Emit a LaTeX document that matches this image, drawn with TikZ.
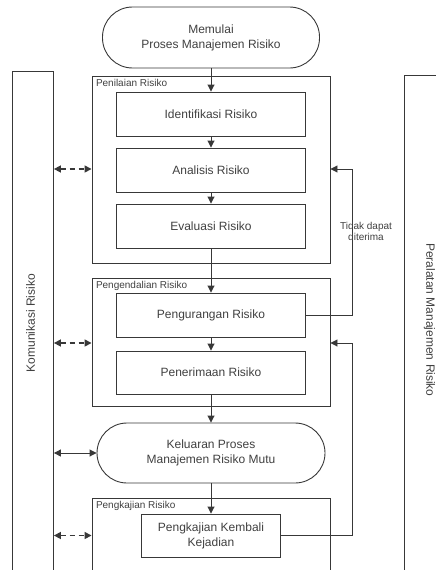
\documentclass[tikz,border=0pt]{standalone}
\usepackage{fontspec}
\setmainfont{Liberation Sans}
\usetikzlibrary{arrows.meta,positioning}
\definecolor{garis}{rgb}{0.22,0.22,0.22}
\definecolor{teks}{rgb}{0.25,0.25,0.25}
\tikzset{
    proses/.style={draw=garis, rectangle, minimum width=189pt, minimum height=44pt, inner sep=0pt, align=center},
    terminal/.style={draw=garis, rectangle, rounded corners=30pt, minimum height=61pt, inner sep=0pt, align=center},
    wadah/.style={draw=garis, rectangle, inner sep=0pt},
    judul/.style={font=\fontsize{10}{12}\selectfont, inner sep=1pt, anchor=north west},
    panah/.style={draw=garis, -{Triangle[length=7pt,width=7pt]}},
    duaarah/.style={draw=garis, {Triangle[length=7pt,width=7pt]}-{Triangle[length=7pt,width=7pt]}},
    putus/.style={line width=1.5pt, dash pattern=on 5pt off 4pt}
}

\begin{document}
\begin{tikzpicture}[x=1pt, y=1pt, line width=0.9pt, text=teks, font=\fontsize{12}{15}\selectfont]
    \useasboundingbox (0,0) rectangle (436,-570);

    % kolom samping
    \node[wadah, minimum width=41pt, minimum height=520pt, anchor=north west] (komunikasi) at (12,-71) {};
    \node[rotate=90] (tkomunikasi) at (30.5,-323) {Komunikasi Risiko};
    \node[wadah, minimum width=50pt, minimum height=520pt, anchor=north west] (peralatan) at (404,-75) {};
    \node[rotate=-90] (tperalatan) at (429.5,-320) {Peralatan Manajemen Risiko};

    % alur utama
    \node[terminal, minimum width=217pt] (mulai) at (211,-37.5) {Memulai\\Proses Manajemen Risiko};

    \node[wadah, minimum width=238pt, minimum height=187pt] (nilai) at (211,-169.5) {};
    \node[judul] (lnilai) at ([shift={(3pt,-2pt)}]nilai.north west) {Penilaian Risiko};
    \node[proses] (identifikasi) at (211,-114) {Identifikasi Risiko};
    \node[proses] (analisis) at (211,-170) {Analisis Risiko};
    \node[proses] (evaluasi) at (211,-226) {Evaluasi Risiko};

    \node[wadah, minimum width=238pt, minimum height=128pt] (kendali) at (211,-342) {};
    \node[judul] (lkendali) at ([shift={(3pt,-2pt)}]kendali.north west) {Pengendalian Risiko};
    \node[proses] (kurang) at (211,-315) {Pengurangan Risiko};
    \node[proses, minimum height=43pt] (terima) at (211,-372.5) {Penerimaan Risiko};

    \node[terminal, minimum width=228pt, minimum height=60pt] (keluaran) at (211,-453) {Keluaran Proses\\Manajemen Risiko Mutu};

    \node[wadah, minimum width=238pt, minimum height=90pt] (kaji) at (211,-543) {};
    \node[judul] (lkaji) at ([shift={(3pt,-2pt)}]kaji.north west) {Pengkajian Risiko};
    \node[proses, minimum width=139pt, minimum height=43pt] (kembali) at (211,-535.5) {Pengkajian Kembali\\Kejadian};

    \draw[panah] (mulai) -- (identifikasi);
    \draw[panah] (identifikasi) -- (analisis);
    \draw[panah] (analisis) -- (evaluasi);
    \draw[panah] (evaluasi) -- (kurang);
    \draw[panah] (kurang) -- (terima);
    \draw[panah] (terima) -- (keluaran);
    \draw[panah] (keluaran) -- (kembali);

    % umpan balik
    \coordinate (balik1) at (352,-169);
    \coordinate (balik2) at (352,-343);
    \draw[panah] (kurang.east) -| (balik1) -- (balik1 -| nilai.east);
    \draw[panah] (kembali.east) -| (balik2) -- (balik2 -| kendali.east);
    \node[font=\fontsize{10}{11.5}\selectfont, align=center] (tidak) at (366,-231.5) {Tidak dapat\\diterima};

    % komunikasi
    \draw[duaarah, putus] (komunikasi.east |- balik1) -- (balik1 -| nilai.west);
    \draw[duaarah, putus] (komunikasi.east |- balik2) -- (balik2 -| kendali.west);
    \draw[duaarah] (komunikasi.east |- keluaran.west) -- (keluaran.west);
    \draw[duaarah, putus] (komunikasi.east |- kembali) -- (kembali -| kaji.west);
\end{tikzpicture}
\end{document}
